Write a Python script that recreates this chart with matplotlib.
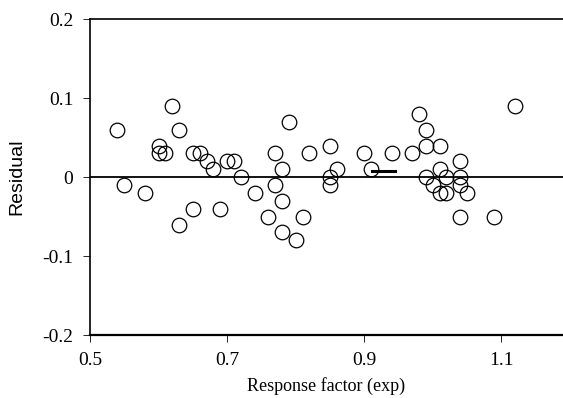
import numpy as np
from matplotlib import pyplot as plt

# residuals vs experimental response factor
response = [0.54, 0.55, 0.58, 0.60, 0.60, 0.61, 0.62, 0.63, 0.63, 0.65,
            0.65, 0.66, 0.67, 0.68, 0.69, 0.70, 0.71, 0.72, 0.74, 0.76,
            0.77, 0.77, 0.78, 0.78, 0.78, 0.79, 0.80, 0.81, 0.82, 0.85,
            0.85, 0.85, 0.86, 0.90, 0.91, 0.94, 0.97, 0.98, 0.99, 0.99,
            0.99, 1.00, 1.01, 1.01, 1.01, 1.02, 1.02, 1.04, 1.04, 1.04,
            1.04, 1.05, 1.09, 1.12]
residual = [0.06, -0.01, -0.02, 0.04, 0.03, 0.03, 0.09, 0.06, -0.06, 0.03,
            -0.04, 0.03, 0.02, 0.01, -0.04, 0.02, 0.02, 0.00, -0.02, -0.05,
            0.03, -0.01, 0.01, -0.03, -0.07, 0.07, -0.08, -0.05, 0.03, 0.04,
            0.00, -0.01, 0.01, 0.03, 0.01, 0.03, 0.03, 0.08, 0.06, 0.04,
            0.00, -0.01, 0.04, 0.01, -0.02, 0.00, -0.02, 0.02, 0.00, -0.01,
            -0.05, -0.02, -0.05, 0.09]

# short dash drawn next to the point at 0.91
dash_x = [0.912, 0.945]
dash_y = [0.008, 0.008]

xticks = [0.5, 0.7, 0.9, 1.1]
yticks = [-0.2, -0.1, 0, 0.1, 0.2]

fig = plt.figure(figsize=(5.63, 3.98), dpi=100)
ax = fig.add_axes([0.16, 0.158, 0.84, 0.794])

ax.axhline(0, color='black', lw=1.3, zorder=1)
ax.plot(response, residual, 'o', ms=10.5, mfc='none', mec='black', mew=0.9, zorder=2)
ax.plot(dash_x, dash_y, '-', color='black', lw=2.2, zorder=3)

ax.set_xlim(0.5, 1.19)
ax.set_ylim(-0.2, 0.2)
ax.set_xticks(xticks)
ax.set_yticks(yticks)
ax.set_xticklabels(['0.5', '0.7', '0.9', '1.1'])
ax.set_yticklabels(['-0.2', '-0.1', '0', '0.1', '0.2'])

for lab in ax.get_xticklabels() + ax.get_yticklabels():
    lab.set_family('Liberation Serif')
    lab.set_fontsize(14)

ax.tick_params(direction='out', length=5, width=0.6, pad=7)
ax.spines['right'].set_visible(False)
ax.spines['top'].set_linewidth(1.2)
ax.spines['left'].set_linewidth(1.2)
ax.spines['bottom'].set_linewidth(1.6)

ax.set_xlabel('Response factor (exp)', family='Liberation Serif', fontsize=13, labelpad=6)
ax.set_ylabel('Residual', family='Liberation Sans', fontsize=14, labelpad=12)

plt.savefig('out.png', dpi=100)
